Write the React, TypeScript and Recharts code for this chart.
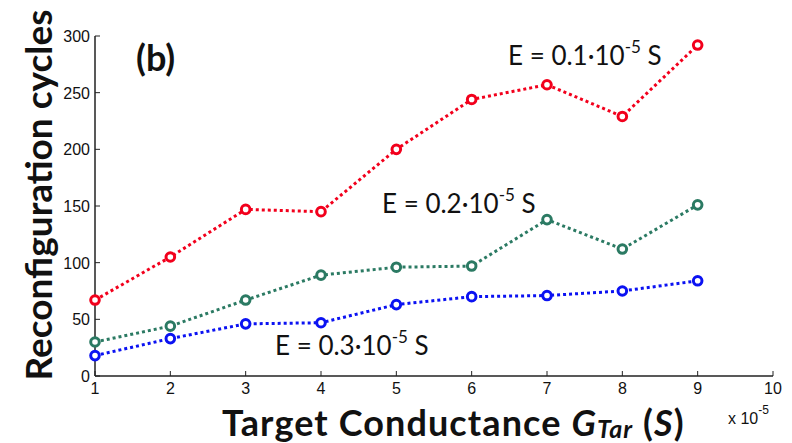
import { LineChart, Line, XAxis, YAxis, Customized } from 'recharts'

const conductance = [1, 2, 3, 4, 5, 6, 7, 8, 9]
const cyclesE01 = [67, 105, 147, 145, 200, 244, 257, 229, 292]
const cyclesE02 = [30, 44, 67, 89, 96, 97, 138, 112, 151]
const cyclesE03 = [18, 33, 46, 47, 63, 70, 71, 75, 84]
const xTicks = [1, 2, 3, 4, 5, 6, 7, 8, 9, 10]
const yTicks = [0, 50, 100, 150, 200, 250, 300]

const data = conductance.map((g, i) => ({
  g,
  e01: cyclesE01[i],
  e02: cyclesE02[i],
  e03: cyclesE03[i],
}))

const series = [
  { key: 'e01', color: '#f2001c' },
  { key: 'e02', color: '#2b7a63' },
  { key: 'e03', color: '#0b12f2' },
]

const AXIS = '#222'
const TICK_FONT = 'Arial, "Liberation Sans", sans-serif'
const TITLE_FONT = 'Lato, "Open Sans", sans-serif'

function XTick({ x, y, payload }: any) {
  return (
    <g>
      <line x1={x} y1={y} x2={x} y2={y - 5} stroke={AXIS} strokeWidth={1} />
      <text x={x} y={y + 18} textAnchor="middle" fontSize={16} fontFamily={TICK_FONT} fill="#111">
        {payload.value}
      </text>
    </g>
  )
}

function YTick({ x, y, payload }: any) {
  return (
    <g>
      <line x1={x} y1={y} x2={x + 5} y2={y} stroke={AXIS} strokeWidth={1} />
      <text x={x - 5} y={y + 6} textAnchor="end" fontSize={16} fontFamily={TICK_FONT} fill="#111">
        {payload.value}
      </text>
    </g>
  )
}

function RingDot({ cx, cy, stroke }: any) {
  if (cx == null || cy == null) return null
  return <circle cx={cx} cy={cy} r={4.3} fill="#fff" stroke={stroke} strokeWidth={3} />
}

function Energy({ x, y, value }: { x: number; y: number; value: string }) {
  return (
    <text x={x} y={y} fontSize={26} fontFamily={TITLE_FONT} fill="#111">
      {`E = ${value}·10`}
      <tspan dy={-12} fontSize={17}>-5</tspan>
      <tspan dy={12}> S</tspan>
    </text>
  )
}

function Annotations() {
  return (
    <g>
      <text x={136} y={71} fontSize={36} fontWeight={700} fontFamily={TITLE_FONT} fill="#111">(b)</text>
      <Energy x={508} y={65} value="0.1" />
      <Energy x={382} y={213} value="0.2" />
      <Energy x={275} y={355} value="0.3" />
      <text x={728} y={424} fontSize={16} fontFamily={TICK_FONT} fill="#111">
        x 10
        <tspan dy={-10} fontSize={12}>-5</tspan>
      </text>
      <text x={222} y={436} fontSize={36} fontWeight={700} fontFamily={TITLE_FONT} fill="#111" letterSpacing={1.1}>
        Target Conductance{' '}
        <tspan fontStyle="italic">G</tspan>
        <tspan fontStyle="italic" fontSize={25} dy={2}>Tar</tspan>
        <tspan dy={-2}> (</tspan>
        <tspan fontStyle="italic">S</tspan>
        <tspan>)</tspan>
      </text>
      <text
        x={0}
        y={0}
        transform="translate(52,195) rotate(-90)"
        textAnchor="middle"
        fontSize={37}
        fontWeight={700}
        fontFamily={TITLE_FONT}
        fill="#111"
      >
        Reconfiguration cycles
      </text>
    </g>
  )
}

export default function App() {
  return (
    <div style={{ width: 792, height: 443, background: '#fff' }}>
      <style>{'body{margin:0}'}</style>
      <LineChart width={792} height={443} data={data} margin={{ top: 36, right: 19, left: 55, bottom: 37 }}>
        <XAxis
          dataKey="g"
          type="number"
          domain={[1, 10]}
          ticks={xTicks}
          height={30}
          tickSize={0}
          tickMargin={0}
          tick={<XTick />}
          axisLine={{ stroke: AXIS, strokeWidth: 1.5 }}
          tickLine={false}
        />
        <YAxis
          type="number"
          domain={[0, 300]}
          ticks={yTicks}
          width={40}
          tickSize={0}
          tickMargin={0}
          tick={<YTick />}
          axisLine={{ stroke: AXIS, strokeWidth: 1.5 }}
          tickLine={false}
        />
        {series.map(s => (
          <Line
            key={s.key}
            type="linear"
            dataKey={s.key}
            stroke={s.color}
            strokeWidth={3}
            strokeDasharray="3 3"
            dot={<RingDot stroke={s.color} />}
            activeDot={false}
            isAnimationActive={false}
          />
        ))}
        <Customized component={<Annotations />} />
      </LineChart>
    </div>
  )
}
